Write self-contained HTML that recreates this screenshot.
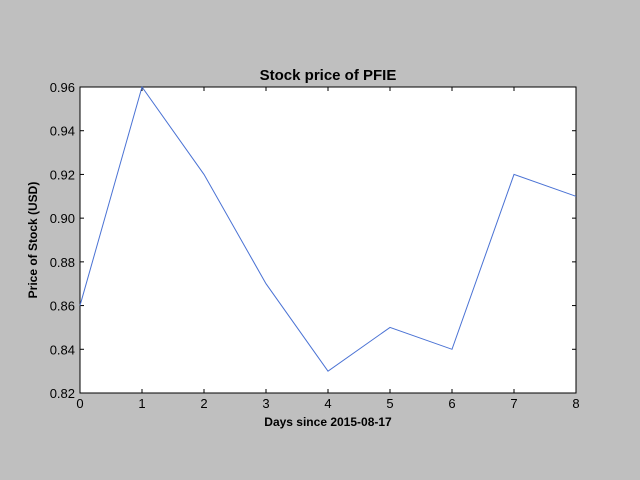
<!DOCTYPE html>
<html><head><meta charset="utf-8"><style>
body{margin:0;background:#bfbfbf;}
svg{display:block;font-family:"Liberation Sans",sans-serif;}
.t{font-family:"Liberation Sans Narrow","Liberation Sans",sans-serif;font-weight:bold;}
</style></head><body>
<svg id="chart" width="640" height="480">
<rect x="0" y="0" width="640" height="480" fill="#bfbfbf"/>
<rect x="80" y="87" width="496" height="306" fill="#fff" stroke="#000" stroke-width="1"/>
<g id="ticks"></g>
<polyline id="line" fill="none" stroke="#4a72d4" stroke-width="1"/>
<text class="t" x="328" y="80" text-anchor="middle" font-size="15">Stock price of PFIE</text>
<text class="t" x="328" y="426" text-anchor="middle" font-size="12">Days since 2015-08-17</text>
<text class="t" x="37" y="240" text-anchor="middle" font-size="12" transform="rotate(-90 37 240)">Price of Stock (USD)</text>
</svg>
<script>
const days = [0,1,2,3,4,5,6,7,8];
const prices = [0.86,0.96,0.92,0.87,0.83,0.85,0.84,0.92,0.91];
const xTicks = [0,1,2,3,4,5,6,7,8];
const yTicks = [0.82,0.84,0.86,0.88,0.90,0.92,0.94,0.96];
const X0=80,X1=576,Y0=393,Y1=87;
const xs=v=>X0+(v-0)/(8-0)*(X1-X0);
const ys=v=>Y0-(v-0.82)/(0.96-0.82)*(Y0-Y1);
const NS="http://www.w3.org/2000/svg";
const g=document.getElementById('ticks');
function mk(tag,attrs){const e=document.createElementNS(NS,tag);for(const k in attrs)e.setAttribute(k,attrs[k]);g.appendChild(e);return e;}
xTicks.forEach(v=>{const x=xs(v);
 const a=mk('line',{x1:x,x2:x,y1:Y0,y2:Y0-4,stroke:'#000'});
 
 
 const b=mk('line',{x1:x,x2:x,y1:Y1,y2:Y1+4,stroke:'#000'});
 
 
 const t=mk('text',{x:x,y:Y0+15,'text-anchor':'middle','font-size':'13'});t.textContent=v;
 
 
});
yTicks.forEach(v=>{const y=ys(v);
 const a=mk('line',{x1:X0,x2:X0+4,y1:y,y2:y,stroke:'#000'});
 
 
 const b=mk('line',{x1:X1,x2:X1-4,y1:y,y2:y,stroke:'#000'});
 
 
 const t=mk('text',{x:X0-5,y:y+5,'text-anchor':'end','font-size':'13'});t.textContent=v.toFixed(2);
 
 
});
document.getElementById('line').setAttribute('points',days.map((d,i)=>xs(d)+','+ys(prices[i])).join(' '));
</script>
</body></html>
